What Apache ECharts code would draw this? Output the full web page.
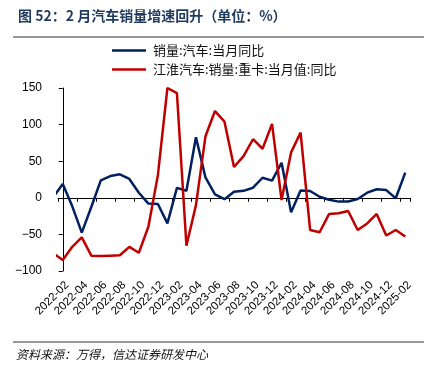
<!DOCTYPE html>
<html lang="zh">
<head>
<meta charset="UTF-8">
<title>2月汽车销量增速回升</title>
<script src="https://cdn.jsdelivr.net/npm/echarts@6/dist/echarts.min.js"></script>
<style>
  html, body { margin: 0; padding: 0; background: #fff; }
  #main { width: 436px; height: 375px; }
</style>
</head>
<body>
<div id="main"></div>
<script type="text/javascript">
// 月份：2022-01 在左侧被截掉一半，只留一段线
var months = ['2022-01','2022-02','2022-03','2022-04','2022-05','2022-06','2022-07','2022-08','2022-09','2022-10','2022-11','2022-12',
  '2023-01','2023-02','2023-03','2023-04','2023-05','2023-06','2023-07','2023-08','2023-09','2023-10','2023-11','2023-12',
  '2024-01','2024-02','2024-03','2024-04','2024-05','2024-06','2024-07','2024-08','2024-09','2024-10','2024-11','2024-12',
  '2025-01','2025-02'];
// 销量:汽车:当月同比
var carYoy = [0.9, 18.7, -11.7, -47.6, -12.6, 23.8, 29.7, 32.1, 25.7, 6.9, -7.9, -8.4,
  -35.0, 13.5, 9.7, 82.7, 27.9, 4.8, -1.9, 8.2, 9.5, 13.8, 27.4, 23.5,
  47.9, -19.9, 9.9, 9.3, 1.5, -2.7, -5.2, -5.0, -1.7, 7.0, 11.7, 10.5,
  -0.6, 34.4];
// 江淮汽车:销量:重卡:当月值:同比
var jacYoy = [-76, -85, -67, -54, -79, -79.5, -79, -78.5, -67, -75, -39.5, 31,
  150, 143, -65.5, -10, 84, 118.5, 104, 42, 57, 80, 67, 101,
  -3, 62, 89, -44, -47, -22, -21, -18, -44, -35, -22, -51.5,
  -44, -53];
var yTicks = { min: -100, max: 150, step: 50 };

var labelMonths = months.slice(1);   // 底部标签用的类目

function toPoints(arr) {
  var out = [];
  for (var i = 0; i < arr.length; i++) {
    out.push([i - 1, arr[i]]);
  }
  return out;
}

var myChart = echarts.init(document.getElementById('main'), null, { renderer: 'canvas' });
var cjk = '"Noto Sans CJK SC", "Liberation Sans", sans-serif';

var option = {
  backgroundColor: '#fff',
  animation: false,
  title: {
    text: '图 52：2 月汽车销量增速回升（单位：%）',
    left: 13,
    top: 4,
    textStyle: { fontFamily: cjk, fontSize: 14, fontWeight: 'bold', color: '#1f3a5f' }
  },
  legend: {
    orient: 'vertical',
    left: 107,
    top: 39,
    icon: 'rect',
    itemWidth: 34,
    itemHeight: 2.5,
    itemGap: 6,
    textStyle: { fontFamily: cjk, fontSize: 13, color: '#111', padding: [0, 0, 0, 2] },
    data: ['销量:汽车:当月同比', '江淮汽车:销量:重卡:当月值:同比']
  },
  grid: { left: 58, top: 88, width: 352, height: 183, containLabel: false },
  xAxis: [{
    type: 'value',
    min: -0.5,
    max: 36.5,
    interval: 2,
    axisLine: { onZero: true, lineStyle: { color: '#000', width: 1 } },
    axisTick: { show: true, length: 4, lineStyle: { color: '#000' } },
    axisLabel: { show: false },
    splitLine: { show: false }
  }, {
    type: 'category',
    position: 'bottom',
    boundaryGap: true,
    data: labelMonths,
    axisLine: { show: false, onZero: false },
    axisTick: { show: false },
    axisLabel: {
      interval: 1,
      rotate: 45,
      margin: 8,
      verticalAlign: 'top',
      fontFamily: '"Liberation Sans", Arial, sans-serif',
      fontSize: 11.5,
      color: '#000'
    },
    splitLine: { show: false }
  }],
  yAxis: {
    type: 'value',
    min: yTicks.min,
    max: yTicks.max,
    interval: yTicks.step,
    axisLine: { show: true, lineStyle: { color: '#000', width: 1 } },
    axisTick: { show: true, length: 4, lineStyle: { color: '#000' } },
    axisLabel: {
      margin: 16,
      fontFamily: '"Liberation Sans", Arial, sans-serif',
      fontSize: 12,
      color: '#000',
      formatter: function (v) { return String(v).replace('-', '\u2212'); }
    },
    splitLine: { show: false }
  },
  graphic: [
    { type: 'line', shape: { x1: 13, y1: 37, x2: 424, y2: 37 }, style: { stroke: '#333', lineWidth: 1.2 }, silent: true },
    { type: 'line', shape: { x1: 13, y1: 342, x2: 424, y2: 342 }, style: { stroke: '#333', lineWidth: 1.2 }, silent: true },
    {
      type: 'text', left: 16, top: 348, silent: true,
      style: { text: '资料来源：万得，信达证券研发中心', fontFamily: cjk, fontSize: 12, fontStyle: 'italic', fill: '#111' }
    }
  ],
  series: [{
    name: '销量:汽车:当月同比',
    type: 'line',
    xAxisIndex: 0,
    symbol: 'none',
    clip: true,
    lineStyle: { width: 2.5, color: '#002060' },
    itemStyle: { color: '#002060' },
    data: toPoints(carYoy)
  }, {
    name: '江淮汽车:销量:重卡:当月值:同比',
    type: 'line',
    xAxisIndex: 0,
    symbol: 'none',
    clip: true,
    lineStyle: { width: 2.5, color: '#c00000' },
    itemStyle: { color: '#c00000' },
    data: toPoints(jacYoy)
  }]
};
myChart.setOption(option);
</script>
</body>
</html>
